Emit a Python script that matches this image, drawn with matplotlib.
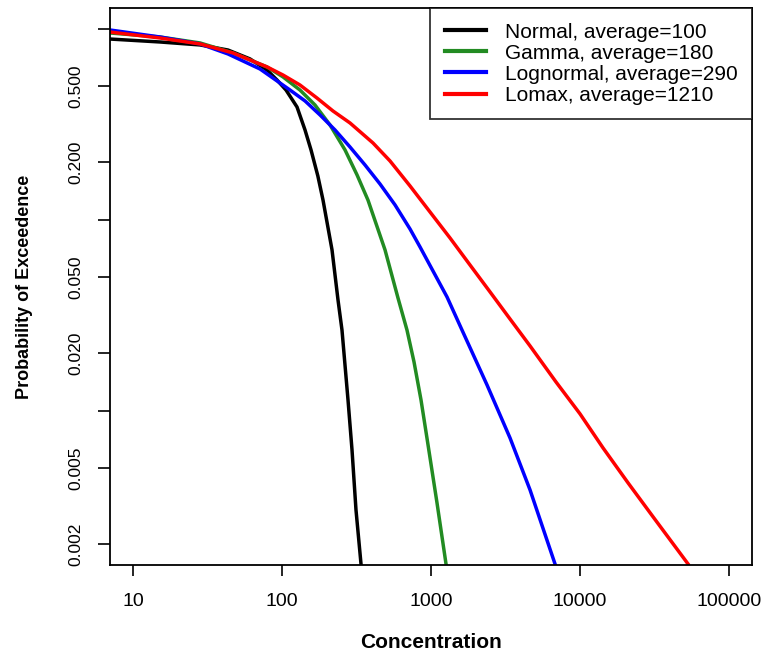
import matplotlib
matplotlib.use("Agg")
import matplotlib.pyplot as plt

plt.rcParams['font.family'] = ['Liberation Sans', 'DejaVu Sans']

# values (log-log exceedance curves)
normal_x = [7.01, 15.18, 28.2, 43.4, 61.0, 79.3, 92.5, 106.4, 126.1, 142.7, 156.6, 174, 188.5,
            216.6, 237.6, 252.7, 277.3, 295, 313.7, 339]
normal_y = [0.886, 0.855, 0.825, 0.776, 0.697, 0.610, 0.541, 0.479, 0.3905, 0.296, 0.2326, 0.170, 0.127,
            0.0697, 0.0381, 0.0265, 0.01142, 0.00625, 0.00303, 0.00158]

gamma_x = [7.01, 15.18, 28.2, 46.9, 79.3, 101.6, 132, 166.5, 210, 264.8, 319, 377.7, 491.3,
           600.5, 690, 768.9, 856.7, 955, 1097, 1261]
gamma_y = [0.953, 0.908, 0.845, 0.749, 0.633, 0.561, 0.479, 0.400, 0.3143, 0.2326, 0.172, 0.127, 0.0697,
           0.0390, 0.0265, 0.01806, 0.01142, 0.00664, 0.0033, 0.00158]

lognorm_x = [7.01, 15.18, 28.2, 43.4, 71.2, 113.2, 142.7, 180, 226.8, 286.0, 360.6, 454.7, 573.4,
             722.9, 843.9, 1281, 1615, 2376, 3390, 4618, 6795]
lognorm_y = [0.988, 0.908, 0.835, 0.740, 0.6173, 0.479, 0.420, 0.3546, 0.296, 0.241, 0.1941, 0.1543, 0.1199,
             0.0897, 0.0722, 0.0395, 0.0265, 0.01368, 0.00722, 0.00386, 0.00158]

lomax_x = [7.01, 15.18, 28.2, 46.9, 79.3, 101.6, 132, 171.7, 219.9, 286.0, 407.9, 530.7, 722.9, 984.7,
           1341, 1827, 2489, 3390, 4618, 6898, 10000, 14270, 21000, 30900, 53070]
lomax_y = [0.964, 0.897, 0.835, 0.749, 0.633, 0.574, 0.509, 0.435, 0.372, 0.322, 0.253, 0.2037, 0.1507, 0.1101,
           0.0805, 0.0581, 0.0420, 0.0303, 0.0219, 0.01418, 0.00965, 0.0064, 0.0042, 0.00279, 0.00158]

labels = ["Normal, average=100", "Gamma, average=180", "Lognormal, average=290", "Lomax, average=1210"]
colors = ["black", "#228B22", "#0000FF", "#FF0000"]

x_ticks = [10, 100, 1000, 10000, 100000]
x_ticklabels = ["10", "100", "1000", "10000", "100000"]
y_ticks = [1.0, 0.5, 0.2, 0.1, 0.05, 0.02, 0.01, 0.005, 0.002]
y_ticklabels = ["", "0.500", "0.200", "", "0.050", "0.020", "", "0.005", "0.002"]

fig = plt.figure(figsize=(7.64, 6.51), dpi=100)
ax = fig.add_axes([110 / 764, 1 - 565 / 651, 642 / 764, 557 / 651])

series = [(normal_x, normal_y), (gamma_x, gamma_y), (lognorm_x, lognorm_y), (lomax_x, lomax_y)]
for (xs, ys), lab, col in zip(series, labels, colors):
    ax.plot(xs, ys, color=col, lw=2.5, label=lab, solid_joinstyle="round")

ax.set_xscale("log")
ax.set_yscale("log")
ax.set_xlim(7.01, 142600)
ax.set_ylim(0.00156, 1.288)

ax.xaxis.set_ticks(x_ticks)
ax.xaxis.set_ticklabels(x_ticklabels, fontsize=14)
ax.xaxis.set_minor_locator(matplotlib.ticker.NullLocator())
ax.yaxis.set_ticks(y_ticks)
ax.yaxis.set_ticklabels(y_ticklabels, fontsize=12.5, rotation=90, va="center")
ax.yaxis.set_minor_locator(matplotlib.ticker.NullLocator())
ax.tick_params(axis="x", length=8, width=1.2, pad=12)
ax.tick_params(axis="y", length=9, width=1.2, pad=10)

for s in ax.spines.values():
    s.set_linewidth(1.3)

ax.set_xlabel("Concentration", fontsize=15, fontweight="bold", labelpad=17)
ax.set_ylabel("Probability of Exceedence", fontsize=13, fontweight="bold", labelpad=26)

leg = ax.legend(loc="upper right", fontsize=15, frameon=True, fancybox=False,
                edgecolor="black", borderaxespad=0, handlelength=1.97,
                handletextpad=0.9, labelspacing=0.1, borderpad=0.7)
leg.get_frame().set_linewidth(1.3)
for h in leg.get_lines():
    h.set_linewidth(3)

plt.savefig("out.png", dpi=100)
